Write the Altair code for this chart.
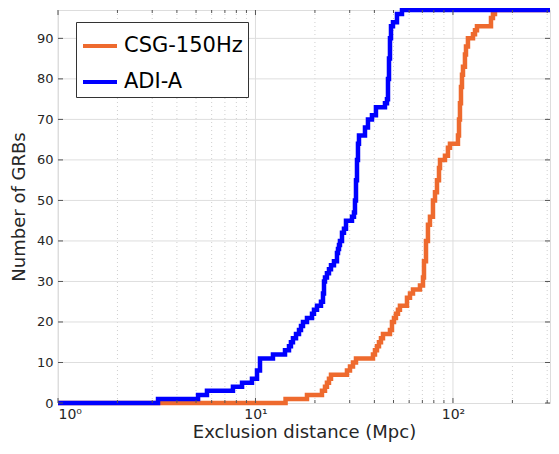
import altair as alt
import pandas as pd

# ---- data ----
series = ["CSG-150Hz", "ADI-A"]
colors = ["#EE6A2E", "#0000FF"]

csg_dist = [1, 14.2, 18.23, 21.71, 22.49, 23.01, 23.56, 24.12, 29.06, 30.10, 31.17, 32.28,
            39.35, 40.28, 41.23, 42.20, 43.20, 44.22, 47.98, 49.11, 50.27, 51.44, 52.66, 53.89,
            58.50, 60.59, 62.74, 68.07, 70.5, 71.33, 73.02, 74.71, 76.48, 79.2, 81.1, 83.0,
            84.97, 85.98, 91.10, 94.3, 96.57, 106.0, 107.3, 108.5, 109.8, 111.1, 112.4, 115.0,
            116.4, 119.1, 126.3, 129.3, 132.3, 155.8, 159.4, 163.2, 310]
csg_count = [0, 1, 2, 3, 4, 5, 6, 7, 8, 9, 10, 11,
             12, 13, 14, 15, 16, 17, 18, 20, 21, 22, 23, 24,
             26, 27, 28, 29, 31, 35, 40, 44, 46, 50, 52, 55,
             58, 60, 61, 63, 64, 66, 70, 74, 78, 81, 83, 86,
             88, 90, 91, 92, 93, 95, 96, 97, 97]

adi_dist = [1, 3.21, 5.12, 5.68, 7.69, 8.55, 9.60, 10.18, 10.54, 12.26, 14.11, 14.78,
            15.12, 15.48, 16.04, 16.61, 17.00, 17.40, 18.23, 19.33, 19.78, 20.49, 21.46,
            21.97, 22.23, 22.49, 23.01, 23.56, 24.12, 24.97, 25.86, 26.17, 26.48, 26.78,
            27.42, 28.06, 28.73, 30.81, 31.53, 31.90, 32.28, 32.66, 33.04, 33.43, 35.85,
            37.12, 38.89, 40.74, 45.26, 46.33, 46.88, 47.43, 47.98, 48.55, 49.69, 52.06,
            55.19, 310]
adi_count = [0, 1, 2, 3, 4, 5, 6, 8, 11, 12, 13, 14,
             15, 16, 17, 18, 19, 20, 21, 22, 23, 24, 25,
             27, 30, 31, 32, 33, 34, 35, 37, 38, 39, 40,
             42, 43, 45, 46, 47, 50, 55, 60, 64, 66, 68,
             70, 71, 73, 74, 75, 80, 85, 90, 93, 94, 96,
             97, 97]

x_major = [1, 10, 100]
x_minor = [2, 3, 4, 5, 6, 7, 8, 9, 20, 30, 40, 50, 60, 70, 80, 90, 200, 300]
y_ticks = [0, 10, 20, 30, 40, 50, 60, 70, 80, 90]
y_grid = [10, 20, 30, 40, 50, 60, 70, 80, 90]

# ---- layout ----
W, H = 492, 393
XMIN, XMAX = 1, 310
YMIN, YMAX = 0, 97
FONT = "DejaVu Sans"
TXT = "#262626"

df_csg = pd.DataFrame({"d": csg_dist, "n": csg_count, "series": series[0]})
df_adi = pd.DataFrame({"d": adi_dist, "n": adi_count, "series": series[1]})
df_xmaj = pd.DataFrame({"d": x_major})
df_xmin = pd.DataFrame({"d": x_minor})
df_ytk = pd.DataFrame({"n": y_ticks})
df_ygrid = pd.DataFrame({"n": y_grid})

xscale = alt.Scale(type="log", domain=[XMIN, XMAX], nice=False)
yscale = alt.Scale(domain=[YMIN, YMAX], nice=False, zero=False)

xaxis = alt.Axis(
    values=x_major,
    labelExpr="datum.value == 1 ? '10⁰' : (datum.value == 10 ? '10¹' : '10²')",
    grid=False, ticks=False, domain=False,
    labelFont=FONT, labelFontSize=14, labelColor=TXT, labelPadding=4,
    title="Exclusion distance (Mpc)", titleFont=FONT, titleFontSize=18,
    titleFontWeight="normal", titleColor=TXT, titlePadding=2,
)
yaxis = alt.Axis(
    values=y_ticks, grid=False, ticks=False, domain=False,
    labelFont=FONT, labelFontSize=13, labelColor=TXT, labelPadding=5,
    title="Number of GRBs", titleFont=FONT, titleFontSize=18,
    titleFontWeight="normal", titleColor=TXT, titlePadding=8,
)


def X(field="d"):
    return alt.X(f"{field}:Q", scale=xscale, axis=xaxis)


def Y(field="n"):
    return alt.Y(f"{field}:Q", scale=yscale, axis=yaxis)


color = alt.Color(
    "series:N",
    scale=alt.Scale(domain=series, range=colors),
    legend=alt.Legend(
        title=None, orient="none", legendX=18, legendY=12,
        symbolType="stroke", symbolSize=1156, symbolStrokeWidth=4,
        labelFont=FONT, labelFontSize=21, labelColor="#000000",
        padding=5, rowPadding=7, labelOffset=5,
        strokeColor="#333333", fillColor="white", cornerRadius=0,
    ),
)

grid_minor = alt.Chart(df_xmin).mark_rule(
    color="#cfcfcf", strokeWidth=1, strokeDash=[1, 3]
).encode(x=X(), y=alt.value(0), y2=alt.value(H))

grid_major = alt.Chart(df_xmaj).mark_rule(
    color="#dedede", strokeWidth=1
).encode(x=X(), y=alt.value(0), y2=alt.value(H))

grid_y = alt.Chart(df_ygrid).mark_rule(
    color="#dedede", strokeWidth=1
).encode(y=Y(), x=alt.value(0), x2=alt.value(W))

line_csg = alt.Chart(df_csg).mark_line(
    interpolate="step-after", strokeWidth=4.5
).encode(x=X(), y=Y(), color=color)

line_adi = alt.Chart(df_adi).mark_line(
    interpolate="step-after", strokeWidth=4.5
).encode(x=X(), y=Y(), color=color)

TK_COL = "#555555"
tick_xmaj_b = alt.Chart(df_xmaj).mark_rule(color=TK_COL).encode(
    x=X(), y=alt.value(H), y2=alt.value(H - 5))
tick_xmin_b = alt.Chart(df_xmin).mark_rule(color=TK_COL).encode(
    x=X(), y=alt.value(H), y2=alt.value(H - 3))
tick_xmaj_t = alt.Chart(df_xmaj).mark_rule(color=TK_COL).encode(
    x=X(), y=alt.value(0), y2=alt.value(5))
tick_xmin_t = alt.Chart(df_xmin).mark_rule(color=TK_COL).encode(
    x=X(), y=alt.value(0), y2=alt.value(3))
tick_y_l = alt.Chart(df_ytk).mark_rule(color=TK_COL).encode(
    y=Y(), x=alt.value(0), x2=alt.value(5))
tick_y_r = alt.Chart(df_ytk).mark_rule(color=TK_COL).encode(
    y=Y(), x=alt.value(W), x2=alt.value(W - 5))

chart = alt.layer(
    grid_minor, grid_major, grid_y,
    line_csg, line_adi,
    tick_xmaj_b, tick_xmin_b, tick_xmaj_t, tick_xmin_t, tick_y_l, tick_y_r,
).properties(
    width=W, height=H,
    autosize=alt.AutoSizeParams(type="none"),
    padding={"left": 50, "top": 2, "right": 1, "bottom": 43},
).configure_view(
    stroke="#4d4d4d", strokeWidth=1
).configure(background="white")

chart.save("out.html", embed_options={"renderer": "svg", "actions": False})
